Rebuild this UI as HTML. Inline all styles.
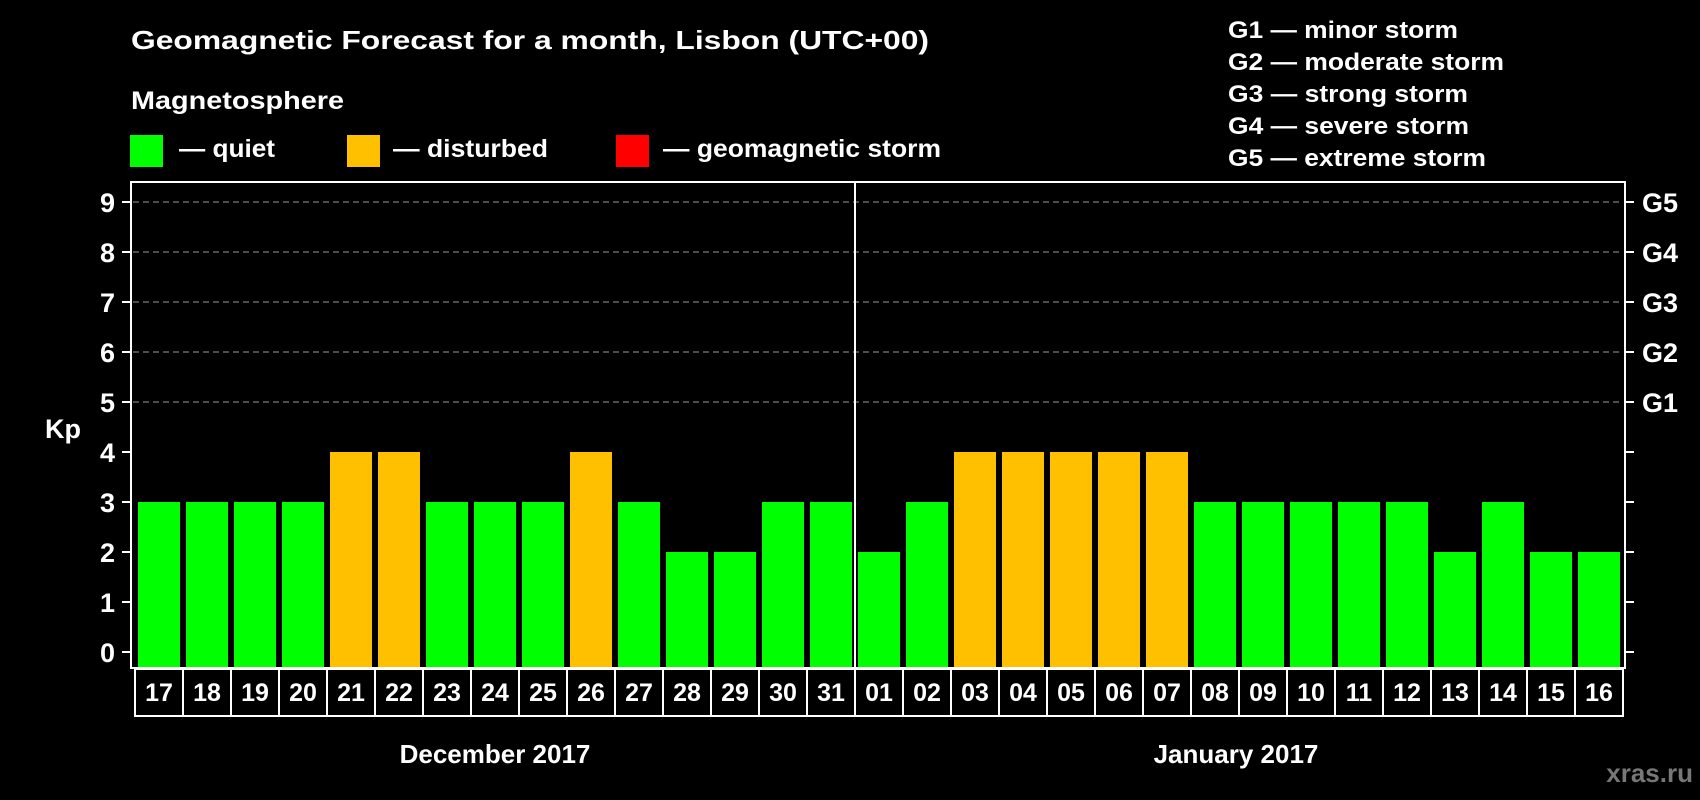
<!DOCTYPE html>
<html><head><meta charset="utf-8"><style>
html,body{margin:0;padding:0;background:#000;}
svg{display:block;font-family:"Liberation Sans",Arial,sans-serif;font-weight:bold;}
</style></head><body>
<svg id="chart" width="1700" height="800" viewBox="0 0 1700 800" xmlns="http://www.w3.org/2000/svg">
<rect x="0" y="0" width="1700" height="800" fill="#000"/>
<text x="131" y="49" font-size="26" fill="#fff" textLength="798" lengthAdjust="spacingAndGlyphs">Geomagnetic Forecast for a month, Lisbon (UTC+00)</text>
<text x="131" y="109" font-size="25" fill="#fff" textLength="213" lengthAdjust="spacingAndGlyphs">Magnetosphere</text>
<rect x="130" y="135" width="33" height="32" fill="#00ff00"/>
<text x="179" y="157" font-size="25" fill="#fff" textLength="96" lengthAdjust="spacingAndGlyphs">— quiet</text>
<rect x="347" y="135" width="33" height="32" fill="#ffc000"/>
<text x="393" y="157" font-size="25" fill="#fff" textLength="155" lengthAdjust="spacingAndGlyphs">— disturbed</text>
<rect x="616" y="135" width="33" height="32" fill="#ff0000"/>
<text x="663" y="157" font-size="25" fill="#fff" textLength="278" lengthAdjust="spacingAndGlyphs">— geomagnetic storm</text>
<g font-size="24" fill="#fff">
<text x="1228" y="38" textLength="230" lengthAdjust="spacingAndGlyphs">G1 — minor storm</text>
<text x="1228" y="70" textLength="276" lengthAdjust="spacingAndGlyphs">G2 — moderate storm</text>
<text x="1228" y="102" textLength="240" lengthAdjust="spacingAndGlyphs">G3 — strong storm</text>
<text x="1228" y="134" textLength="241" lengthAdjust="spacingAndGlyphs">G4 — severe storm</text>
<text x="1228" y="166" textLength="258" lengthAdjust="spacingAndGlyphs">G5 — extreme storm</text>
</g>
<text x="63" y="438" font-size="27" fill="#fff" text-anchor="middle">Kp</text>
<g id="grid"></g>
<g id="bars"></g>
<g id="axes"></g>
<text x="495" y="763" font-size="26" fill="#fff" text-anchor="middle">December 2017</text>
<text x="1236" y="763" font-size="26" fill="#fff" text-anchor="middle">January 2017</text>
<text x="1693" y="782" font-size="26" fill="#777" text-anchor="end">xras.ru</text>
</svg>
<script>
const days = ["17","18","19","20","21","22","23","24","25","26","27","28","29","30","31","01","02","03","04","05","06","07","08","09","10","11","12","13","14","15","16"];
const kpValues = [3,3,3,3,4,4,3,3,3,4,3,2,2,3,3,2,3,4,4,4,4,4,3,3,3,3,3,2,3,2,2];
const yTicks = [0,1,2,3,4,5,6,7,8,9];
const gLabels = ["G1","G2","G3","G4","G5"];
const gLevels = [5,6,7,8,9];
const monthBoundaryIndex = 15;

const NS = "http://www.w3.org/2000/svg";
const plotL = 131, plotR = 1625, plotT = 182, plotB = 668;
const y0 = 652, unit = 50;
const barStart = 138, pitch = 48, barW = 42;
function yScale(v){ return y0 - v*unit; }
function xScale(i){ return barStart + i*pitch; }
function colorFor(v){ return v >= 5 ? "#ff0000" : (v >= 4 ? "#ffc000" : "#00ff00"); }
function mk(tag, attrs, parent){
  const e = document.createElementNS(NS, tag);
  for (const k in attrs) e.setAttribute(k, attrs[k]);
  parent.appendChild(e);
  return e;
}
const grid = document.getElementById("grid");
const bars = document.getElementById("bars");
const axes = document.getElementById("axes");

// dashed gridlines for storm levels
gLevels.forEach(function(v){
  const l = mk("line", {x1: plotL+2, x2: plotR-2, y1: yScale(v), y2: yScale(v), stroke: "#9a9a9a", "stroke-width": 1, "stroke-dasharray": "6,4"}, grid);
  
  
});

// bars
kpValues.forEach(function(v, i){
  const r = mk("rect", {x: xScale(i), y: yScale(v), width: barW, height: plotB - yScale(v), fill: colorFor(v)}, bars);
  
  
});

// month divider
const xd = xScale(monthBoundaryIndex) - (pitch - barW)/2;
const div = mk("line", {x1: xd, x2: xd, y1: plotT, y2: plotB, stroke: "#fff", "stroke-width": 2}, axes);



// plot frame
const frame = mk("rect", {x: plotL, y: plotT, width: plotR-plotL, height: plotB-plotT, fill: "none", stroke: "#fff", "stroke-width": 2}, axes);



// y ticks and labels
yTicks.forEach(function(v){
  const y = yScale(v);
  const t1 = mk("line", {x1: plotL-9, x2: plotL, y1: y, y2: y, stroke: "#fff", "stroke-width": 2}, axes);
  
  
  const t2 = mk("line", {x1: plotR, x2: plotR+9, y1: y, y2: y, stroke: "#fff", "stroke-width": 2}, axes);
  
  
  const tx = mk("text", {x: 115, y: y+10, "font-size": 27, fill: "#fff", "text-anchor": "end"}, axes);
  tx.textContent = String(v);
  
  
});
gLevels.forEach(function(v, i){
  const tx = mk("text", {x: 1642, y: yScale(v)+10, "font-size": 27, fill: "#fff"}, axes);
  tx.textContent = gLabels[i];
  
  
});

// day label cells
const boxL = 135, boxT = 669, boxB = 716;
days.forEach(function(d, i){
  const x = boxL + i*pitch;
  const c = mk("rect", {x: x, y: boxT, width: pitch, height: boxB-boxT, fill: "#000", stroke: "#fff", "stroke-width": 2}, axes);
  
  
  const tx = mk("text", {x: x + pitch/2, y: 701, "font-size": 25, fill: "#fff", "text-anchor": "middle"}, axes);
  tx.textContent = d;
  
  
});
</script>
</body></html>
